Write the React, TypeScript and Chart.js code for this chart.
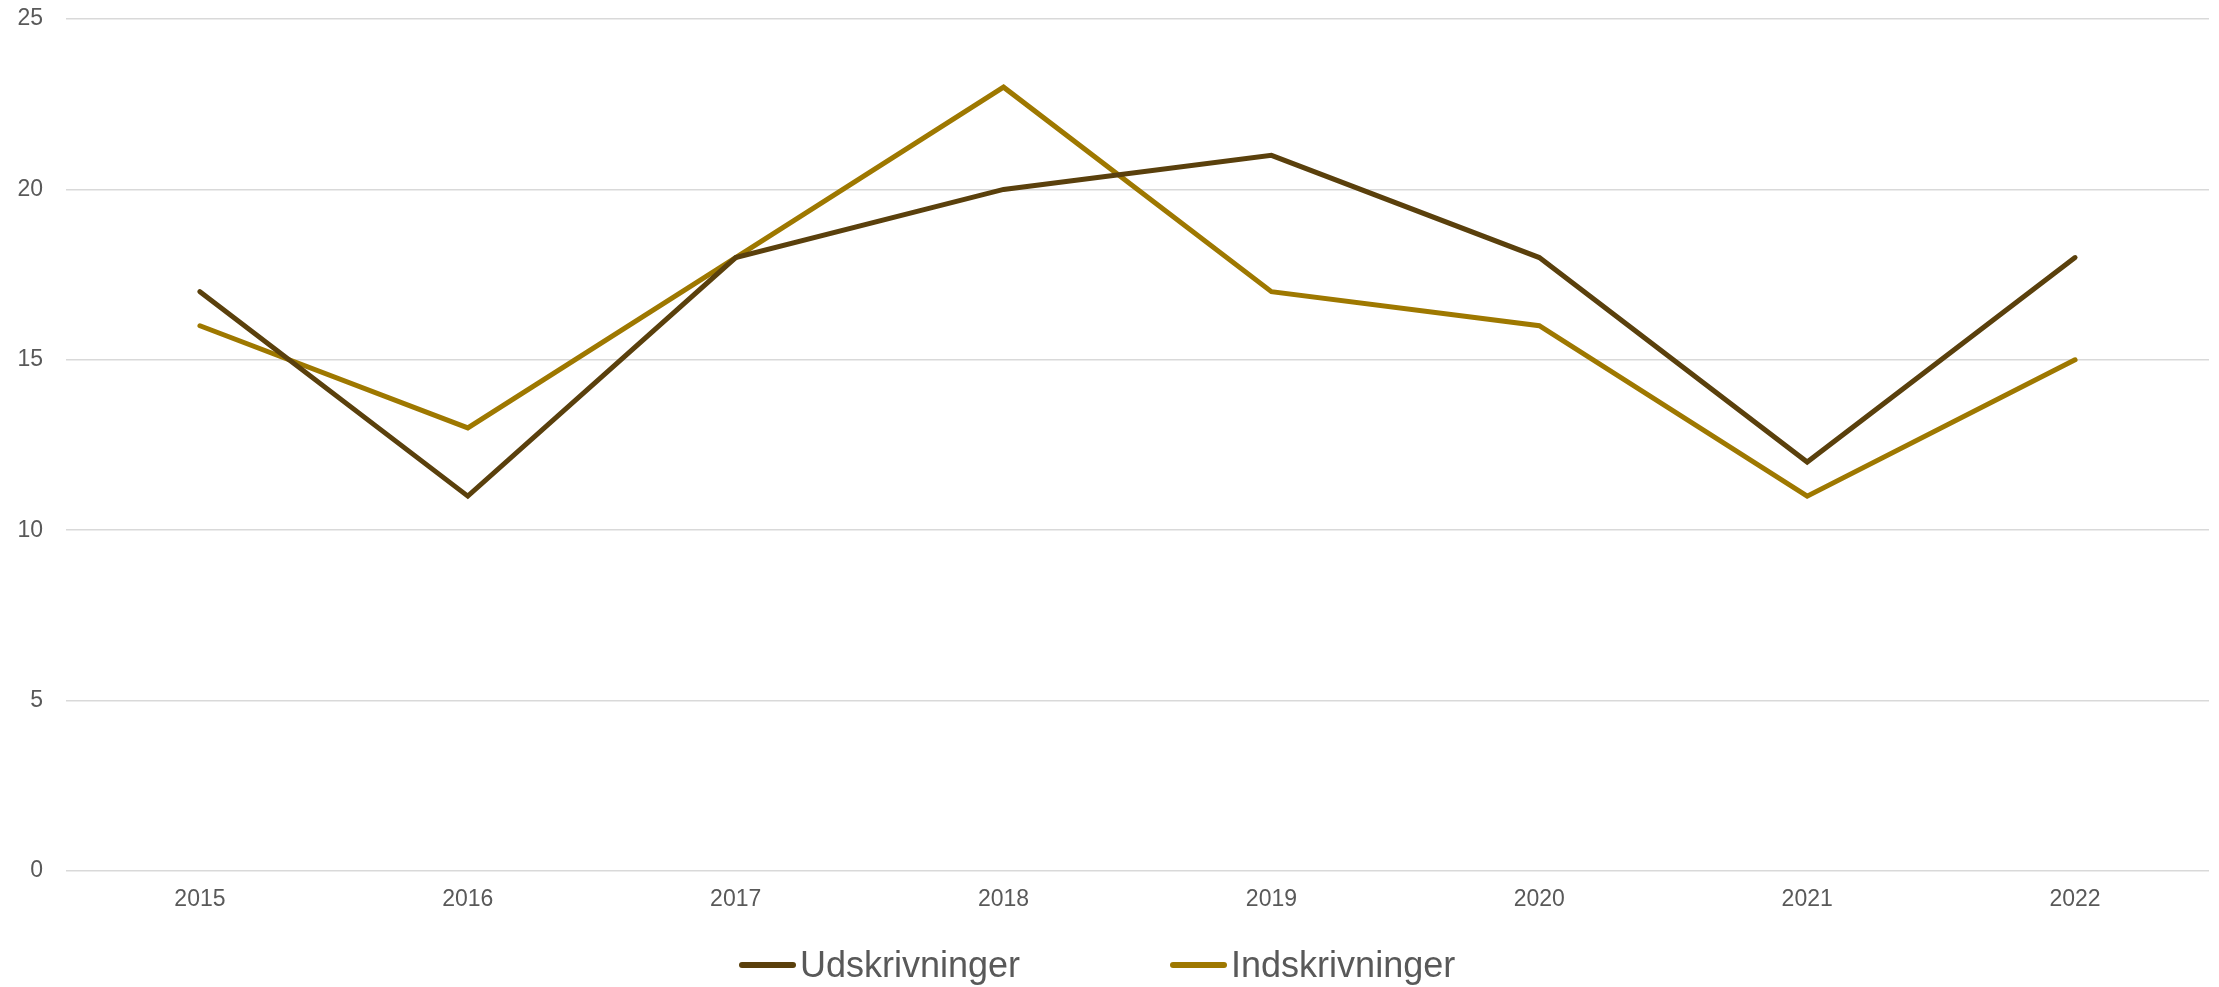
import React, { useEffect, useRef } from "react";
import { Chart, registerables } from "chart.js";

Chart.register(...registerables);

const categories = ["2015", "2016", "2017", "2018", "2019", "2020", "2021", "2022"];
const udskrivninger = [17, 11, 18, 20, 21, 18, 12, 18];
const indskrivninger = [16, 13, 18, 23, 17, 16, 11, 15];
const seriesNames = ["Udskrivninger", "Indskrivninger"];
const seriesColors = ["#5a400c", "#9e7800"];
const yTicks = { min: 0, max: 25, step: 5 };

const FONT = "'Liberation Sans', Arial, Helvetica, sans-serif";

export default function App() {
  const ref = useRef<HTMLCanvasElement | null>(null);

  useEffect(() => {
    if (!ref.current) return;
    const chart = new Chart(ref.current, {
      type: "line",
      data: {
        labels: categories,
        datasets: [
          {
            label: seriesNames[0],
            data: udskrivninger,
            borderColor: seriesColors[0],
            backgroundColor: seriesColors[0],
            borderWidth: 5,
            borderCapStyle: "round",
            borderJoinStyle: "miter",
            pointRadius: 0,
            tension: 0,
            fill: false,
          },
          {
            label: seriesNames[1],
            data: indskrivninger,
            borderColor: seriesColors[1],
            backgroundColor: seriesColors[1],
            borderWidth: 5,
            borderCapStyle: "round",
            borderJoinStyle: "miter",
            pointRadius: 0,
            tension: 0,
            fill: false,
          },
        ],
      },
      options: {
        animation: false,
        responsive: true,
        maintainAspectRatio: false,
        layout: { padding: { top: 19, right: 10, bottom: 0, left: 0 } },
        plugins: {
          legend: { display: false },
          tooltip: { enabled: false },
        },
        scales: {
          x: {
            offset: true,
            grid: { display: false, drawTicks: false },
            border: { display: false },
            ticks: {
              color: "#595959",
              font: { family: FONT, size: 23 },
              padding: 15,
              maxRotation: 0,
            },
            afterFit: (scale: any) => {
              scale.height = 116;
            },
          },
          y: {
            min: yTicks.min,
            max: yTicks.max,
            grid: { color: "#d9d9d9", lineWidth: 1.6, drawTicks: false },
            border: { display: false },
            ticks: {
              stepSize: yTicks.step,
              color: "#595959",
              font: { family: FONT, size: 23 },
              padding: 23,
            },
            afterFit: (scale: any) => {
              scale.width = 66;
              scale.paddingTop = 0;
              scale.paddingBottom = 0;
            },
          },
        },
      },
    });
    return () => chart.destroy();
  }, []);

  return (
    <div
      style={{
        position: "fixed",
        left: 0,
        top: 0,
        width: 2219,
        height: 987,
        background: "#ffffff",
      }}
    >
      <canvas ref={ref} />
      <div
        style={{
          position: "absolute",
          left: 739,
          top: 947,
          height: 36,
          display: "flex",
          alignItems: "center",
          gap: 150,
          fontFamily: FONT,
          fontSize: 36,
          lineHeight: "36px",
          color: "#595959",
          whiteSpace: "nowrap",
        }}
      >
        {seriesNames.map((name, i) => (
          <div key={name} style={{ display: "flex", alignItems: "center" }}>
            <span
              style={{
                display: "inline-block",
                width: 57,
                height: 6,
                borderRadius: 3,
                background: seriesColors[i],
                marginRight: 4,
              }}
            />
            <span>{name}</span>
          </div>
        ))}
      </div>
    </div>
  );
}
